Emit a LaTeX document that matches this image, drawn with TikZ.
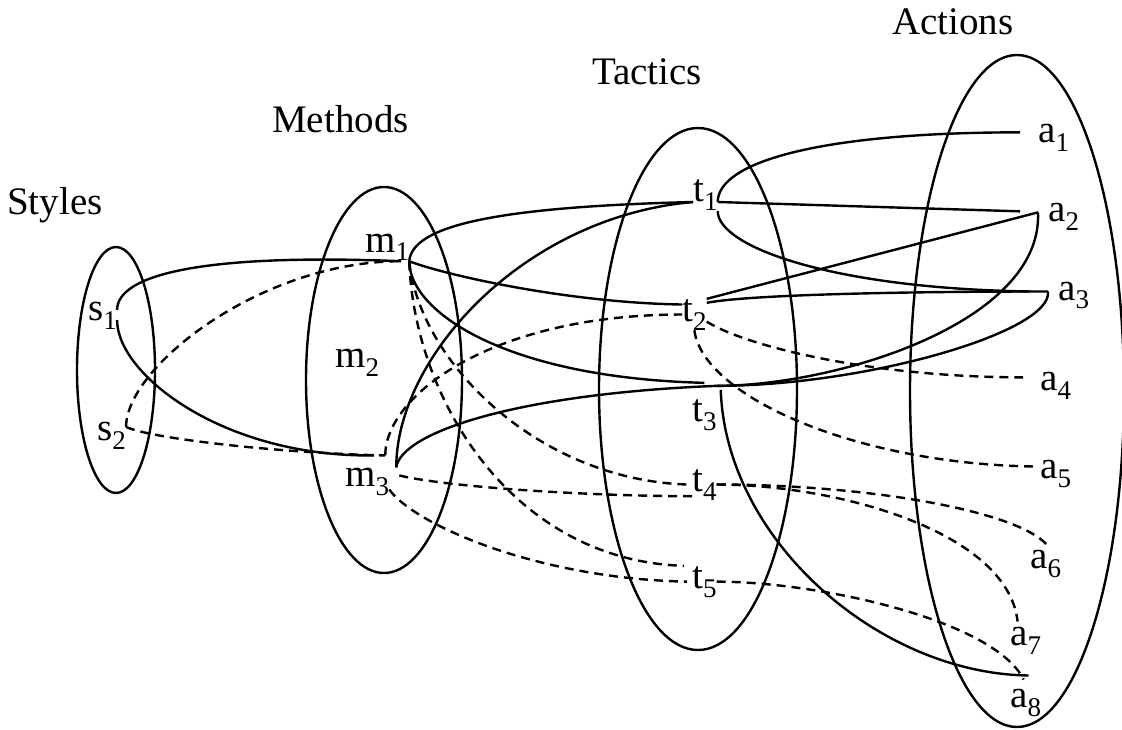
\documentclass[tikz,border=0pt]{standalone}
\usepackage{fontspec}
\setmainfont{Liberation Serif}
\usepackage{tikz}
\usetikzlibrary{shapes.geometric}
\newcommand{\idx}[2]{#1\raisebox{-9pt}{\fontsize{27}{27}\selectfont #2}}
\tikzstyle{group} = [draw, ellipse, line width=2.4pt, inner sep=0pt]
\tikzstyle{title} = [font=\fontsize{39}{44}\selectfont, anchor=base west, inner sep=0pt]
\tikzstyle{item} = [font=\fontsize{39}{40}\selectfont, anchor=base west, inner sep=0pt]
\tikzstyle{solidlink} = [line width=2.4pt]
\tikzstyle{dashlink} = [line width=2.4pt, dash pattern=on 9pt off 6pt]

\begin{document}
\begin{tikzpicture}[x=1pt, y=-1pt]

\path[use as bounding box, fill=white] (0,0) rectangle (1122,730);

% The four sets
\node[group, minimum width=78pt, minimum height=246pt] (styleset) at (116,370) {};
\node[group, minimum width=156pt, minimum height=386pt] (methodset) at (384,380) {};
\node[group, minimum width=198pt, minimum height=522pt] (tacticset) at (698,389) {};
\node[group, minimum width=214pt, minimum height=672pt] (actionset) at (1017,391) {};

% Titles
\node[title] (stylestitle) at (7,215) {Styles};
\node[title] (methodstitle) at (272,133) {Methods};
\node[title] (tacticstitle) at (592,85) {Tactics};
\node[title] (actionstitle) at (892,35) {Actions};

% Styles
\node[item] (s1) at (88,320) {\idx{s}{1}};
\node[item] (s2) at (97,440) {\idx{s}{2}};

% Methods
\node[item] (m1) at (365,252) {\idx{m}{1}};
\node[item] (m2) at (335,367) {\idx{m}{2}};
\node[item] (m3) at (345,486) {\idx{m}{3}};

% Tactics
\node[item] (t1) at (693,202) {\idx{t}{1}};
\node[item] (t2) at (682,321) {\idx{t}{2}};
\node[item] (t3) at (692,421) {\idx{t}{3}};
\node[item] (t4) at (692,491) {\idx{t}{4}};
\node[item] (t5) at (692,588) {\idx{t}{5}};

% Actions
\node[item] (a1) at (1038,143) {\idx{a}{1}};
\node[item] (a2) at (1048,222) {\idx{a}{2}};
\node[item] (a3) at (1058,300) {\idx{a}{3}};
\node[item] (a4) at (1040,390) {\idx{a}{4}};
\node[item] (a5) at (1040,478) {\idx{a}{5}};
\node[item] (a6) at (1030,568) {\idx{a}{6}};
\node[item] (a7) at (1010,645) {\idx{a}{7}};
\node[item] (a8) at (1010,707) {\idx{a}{8}};

% Styles to methods
\draw[solidlink] (s1.20) .. controls +(0,-35) and +(-200,-8) .. (m1.-45);
\draw[solidlink] (s1.base east) .. controls +(0,55) and +(-150,2) .. ([shift={(7,-12)}]m3.north);
\draw[dashlink] (s2.30) .. controls +(0,-60) and +(-140,0) .. (m1.-45);
\draw[dashlink] (s2.30) .. controls +(25,12) and +(-100,-2) .. ([shift={(-4,-12)}]m3.north east);

% Methods to tactics
\draw[solidlink] (m1.south east) .. controls +(3,-35) and +(-200,5) .. (t1.base west);
\draw[solidlink] (m1.south east) .. controls +(30,12) and +(-120,-2) .. ([yshift=10pt]t2.west);
\draw[solidlink] (m1.south east) .. controls +(0,50) and +(-200,-5) .. ([yshift=16pt]t3.north);
\draw[dashlink] (m1.south east) .. controls +(10,100) and +(-150,-5) .. ([xshift=-5pt]t4.west);
\draw[dashlink] (m1.south east) .. controls +(5,140) and +(-170,-5) .. ([xshift=-8pt]t5.north west);
\draw[solidlink] ([xshift=7pt]m3.north east) .. controls +(0,-110) and +(-170,15) .. (t1.base west);
\draw[solidlink] ([xshift=7pt]m3.north east) .. controls +(5,-35) and +(-200,8) .. ([yshift=13pt]t3.north east);
\draw[dashlink] ([shift={(-4,-12)}]m3.north east) .. controls +(0,-60) and +(-190,0) .. (t2.west);
\draw[dashlink] ([shift={(10,-6)}]m3.east) .. controls +(50,12) and +(-100,0) .. ([yshift=4pt]t4.south west);
\draw[dashlink] (m3.-20) .. controls +(25,35) and +(-150,-3) .. ([xshift=-5pt]t5.west);

% Tactics to actions
\draw[solidlink] (t1.base east) .. controls +(0,-40) and +(-200,0) .. ([shift={(-18,-6)}]a1.west);
\draw[solidlink] (t1.base east) -- ([shift={(-28,-6)}]a2.west);
\draw[solidlink] (t1.south east) .. controls +(0,35) and +(-200,-3) .. ([shift={(-28,-4)}]a3.west);
\draw[solidlink] (t2.north east) -- ([shift={(-10,-5)}]a2.west);
\draw[solidlink] ([yshift=-4pt]t2.north east) .. controls +(40,-8) and +(-150,0) .. ([shift={(-10,-4)}]a3.west);
\draw[dashlink] (t2.-30) .. controls +(40,25) and +(-150,0) .. ([shift={(-17,-8)}]a4.west);
\draw[dashlink] (t2.south) .. controls +(8,65) and +(-180,-3) .. ([shift={(-7,-7)}]a5.west);
\draw[solidlink] ([yshift=13pt]t3.north east) .. controls +(120,0) and +(5,110) .. ([shift={(-10,-5)}]a2.west);
\draw[solidlink] ([yshift=13pt]t3.north east) .. controls +(150,0) and +(5,40) .. ([shift={(-10,-4)}]a3.west);
\draw[solidlink] ([shift={(4,-9)}]t3.north east) .. controls +(5,150) and +(-150,-2) .. ([shift={(3,-13)}]a8.north);
\draw[dashlink] (t4.east) .. controls +(150,0) and +(-30,-35) .. ([shift={(2,-4)}]a6.north);
\draw[dashlink] (t4.east) .. controls +(120,0) and +(-10,-90) .. ([shift={(-8,-5)}]a7.north);
\draw[dashlink] (t5.east) .. controls +(100,0) and +(-30,-60) .. ([shift={(-2,-9)}]a8.north);

\end{tikzpicture}
\end{document}
